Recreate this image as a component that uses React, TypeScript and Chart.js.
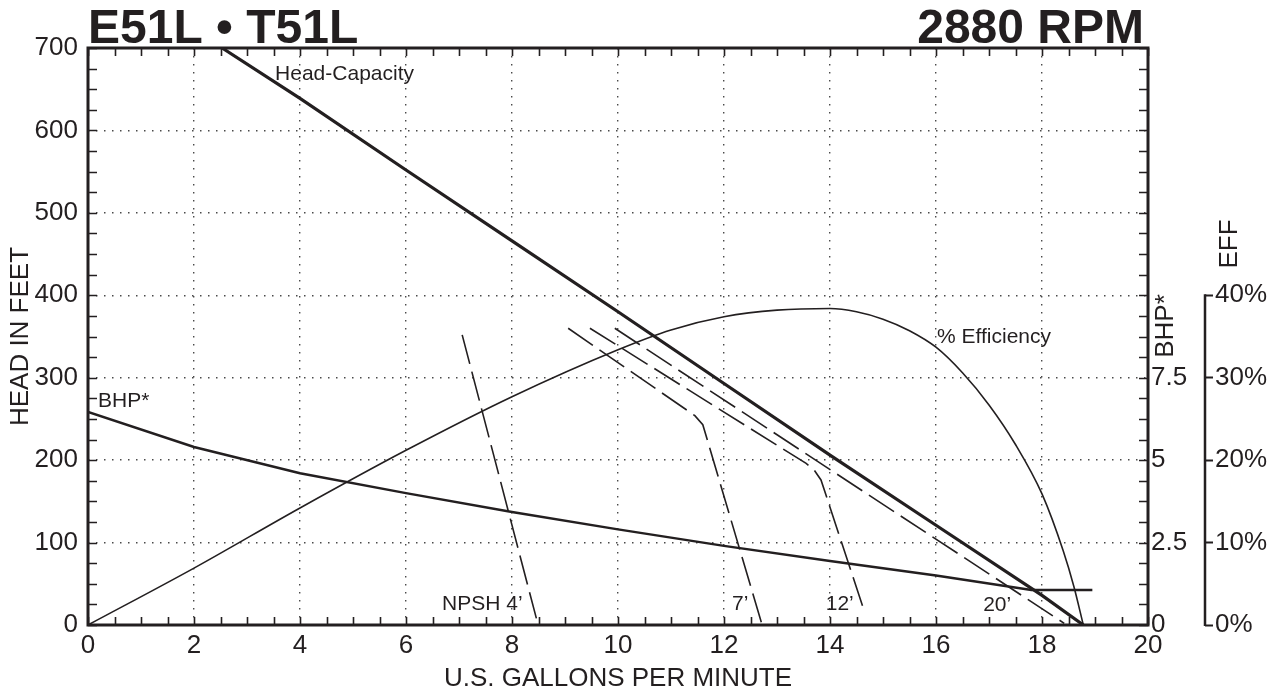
import React, { useEffect, useRef } from "react";
import { Chart, registerables } from "chart.js";

Chart.register(...registerables);

const INK = "#231f20";
const FONT = '"Liberation Sans", Arial, Helvetica, sans-serif';

const titleLeft = "E51L • T51L";
const titleRight = "2880 RPM";
const xTitle = "U.S. GALLONS PER MINUTE";
const yTitle = "HEAD IN FEET";
const bhpTitle = "BHP*";
const effTitle = "EFF";

// Head-Capacity curve (GPM, feet)
const headGpm = [2.53, 4, 6, 8, 10, 12, 14, 16, 18, 18.78];
const headFt = [700, 639, 552, 466, 380, 293, 206, 121, 36, 0];

// % Efficiency curve (GPM, %)
const effGpm = [0, 2, 4, 6, 8, 10, 11, 12, 13, 14, 14.5, 15, 15.5, 16, 16.5, 17, 17.5, 18, 18.4, 18.6, 18.78];
const effPct = [0, 6.9, 14.2, 21.2, 27.7, 33.4, 35.8, 37.4, 38.2, 38.4, 38.0, 37.1, 35.7, 33.7, 30.6, 26.7, 21.9, 15.9, 9.0, 4.7, 0];

// BHP curve (GPM, BHP)
const bhpGpm = [0, 2, 4, 6, 8, 10, 12, 14, 16, 17.8, 18.95];
const bhpVal = [6.46, 5.4, 4.6, 4.0, 3.43, 2.9, 2.4, 1.94, 1.5, 1.06, 1.06];

// NPSH curves (GPM, feet)
const npsh4Gpm = [7.06, 8.46];
const npsh4Ft = [352, 8];
const npsh7Gpm = [9.06, 11.45, 11.6, 12.71];
const npsh7Ft = [360, 254, 243, 2];
const npsh12Gpm = [9.47, 13.55, 13.7, 13.83, 14.65];
const npsh12Ft = [360, 196, 188, 176, 16];
const npsh20Gpm = [9.94, 18.42];
const npsh20Ft = [360, 2];

// Axis ticks
const bhpTickVals = [0, 2.5, 5, 7.5];
const effTickVals = [0, 10, 20, 30, 40];

// Curve labels (GPM, feet at baseline)
const labelTexts = ["Head-Capacity", "BHP*", "% Efficiency", "NPSH 4’", "7’", "12’", "20’"];
const labelGpm = [3.53, 0.19, 16.02, 6.68, 12.15, 13.92, 16.89];
const labelFt = [661, 264, 342, 18, 18, 18, 17];

const pts = (xs: number[], ys: number[]) => xs.map((x, i) => ({ x, y: ys[i] }));

const decorPlugin = {
  id: "decor",
  afterDatasetsDraw(chart: any) {
    const { ctx, chartArea, scales } = chart;
    const xs = scales.x;
    const ys = scales.y;
    const eff = scales.eff;
    ctx.save();
    ctx.strokeStyle = INK;
    ctx.fillStyle = INK;

    // inner minor ticks
    ctx.lineWidth = 1.6;
    ctx.beginPath();
    for (let v = 0; v <= 20.001; v += 0.5) {
      const px = Math.round(xs.getPixelForValue(v)) + 0.5;
      ctx.moveTo(px, chartArea.bottom);
      ctx.lineTo(px, chartArea.bottom - 8);
      ctx.moveTo(px, chartArea.top);
      ctx.lineTo(px, chartArea.top + 8);
    }
    for (let v = 0; v <= 700.001; v += 25) {
      const py = Math.round(ys.getPixelForValue(v)) + 0.5;
      ctx.moveTo(chartArea.left, py);
      ctx.lineTo(chartArea.left + 9, py);
      ctx.moveTo(chartArea.right, py);
      ctx.lineTo(chartArea.right - 9, py);
    }
    ctx.stroke();

    // plot frame
    ctx.lineWidth = 3;
    ctx.strokeRect(chartArea.left, chartArea.top, chartArea.right - chartArea.left, chartArea.bottom - chartArea.top);

    // EFF axis line (0..40%)
    ctx.lineWidth = 2.5;
    ctx.beginPath();
    ctx.moveTo(eff.left, eff.getPixelForValue(0) + 1);
    ctx.lineTo(eff.left, eff.getPixelForValue(40) - 1);
    ctx.stroke();

    // titles
    ctx.font = `bold 48px ${FONT}`;
    ctx.textBaseline = "alphabetic";
    ctx.textAlign = "left";
    ctx.fillText(titleLeft, chartArea.left, 43);
    ctx.textAlign = "right";
    ctx.fillText(titleRight, chartArea.right - 4, 43);

    // curve labels
    ctx.font = `21px ${FONT}`;
    ctx.textAlign = "left";
    labelTexts.forEach((t, i) => {
      ctx.fillText(t, xs.getPixelForValue(labelGpm[i]), ys.getPixelForValue(labelFt[i]));
    });

    // right axis titles (rotated)
    ctx.font = `26px ${FONT}`;
    ctx.textAlign = "center";
    ctx.textBaseline = "middle";
    ctx.save();
    ctx.translate(chartArea.right + 18, 326);
    ctx.rotate(-Math.PI / 2);
    ctx.fillText(bhpTitle, 0, 0);
    ctx.restore();
    ctx.save();
    ctx.translate(eff.left + 25, 244);
    ctx.rotate(-Math.PI / 2);
    ctx.fillText(effTitle, 0, 0);
    ctx.restore();

    ctx.restore();
  },
};

export default function App() {
  const ref = useRef<HTMLCanvasElement>(null);

  useEffect(() => {
    if (!ref.current) return;
    const dotted = {
      color: "#4a4a4a",
      lineWidth: 1.4,
      drawTicks: false,
    };
    const chart = new Chart(ref.current, {
      type: "line",
      data: {
        datasets: [
          {
            label: "Head-Capacity",
            data: pts(headGpm, headFt),
            yAxisID: "y",
            borderColor: INK,
            borderWidth: 3.2,
            pointRadius: 0,
            tension: 0,
          },
          {
            label: "% Efficiency",
            data: pts(effGpm, effPct),
            yAxisID: "eff",
            borderColor: INK,
            borderWidth: 1.6,
            pointRadius: 0,
            cubicInterpolationMode: "monotone",
          },
          {
            label: "BHP*",
            data: pts(bhpGpm, bhpVal),
            yAxisID: "bhp",
            borderColor: INK,
            borderWidth: 2.5,
            pointRadius: 0,
            tension: 0,
          },
          ...[
            [npsh4Gpm, npsh4Ft],
            [npsh7Gpm, npsh7Ft],
            [npsh12Gpm, npsh12Ft],
            [npsh20Gpm, npsh20Ft],
          ].map(([g, f], i) => ({
            label: "NPSH " + i,
            data: pts(g, f),
            yAxisID: "y",
            borderColor: INK,
            borderWidth: 1.6,
            borderDash: [30, 8],
            pointRadius: 0,
            tension: 0,
          })),
        ],
      },
      options: {
        animation: false,
        responsive: false,
        devicePixelRatio: 1,
        layout: { padding: { top: 48, left: 0, right: 0, bottom: 0 } },
        plugins: { legend: { display: false }, tooltip: { enabled: false }, title: { display: false } },
        scales: {
          x: {
            type: "linear",
            min: 0,
            max: 20,
            ticks: { stepSize: 2, color: INK, font: { family: FONT, size: 26 }, padding: 5, maxRotation: 0 },
            grid: dotted,
            border: { display: false, dash: [1.5, 6.5] },
            title: { display: true, text: xTitle, color: INK, font: { family: FONT, size: 26 }, padding: { top: 0, bottom: 0 } },
            afterFit: (s: any) => {
              s.height = 69;
            },
          },
          y: {
            type: "linear",
            position: "left",
            min: 0,
            max: 700,
            ticks: { stepSize: 100, color: INK, font: { family: FONT, size: 26 }, padding: 10 },
            grid: dotted,
            border: { display: false, dash: [1.5, 6.5] },
            title: { display: true, text: yTitle, color: INK, font: { family: FONT, size: 26 }, padding: { top: 5, bottom: 0 } },
            afterFit: (s: any) => {
              s.width = 88;
            },
          },
          bhp: {
            type: "linear",
            position: "right",
            weight: 0,
            min: 0,
            max: 17.5,
            afterBuildTicks: (s: any) => {
              s.ticks = bhpTickVals.map((v) => ({ value: v }));
            },
            ticks: { color: INK, font: { family: FONT, size: 26 }, padding: 3 },
            grid: { display: false, drawOnChartArea: false, drawTicks: false },
            border: { display: false },
            afterFit: (s: any) => {
              s.width = 57;
            },
          },
          eff: {
            type: "linear",
            position: "right",
            weight: 1,
            min: 0,
            max: 70,
            afterBuildTicks: (s: any) => {
              s.ticks = effTickVals.map((v) => ({ value: v }));
            },
            ticks: {
              color: INK,
              font: { family: FONT, size: 26 },
              padding: 2,
              callback: (v: any) => v + "%",
            },
            grid: { display: true, drawOnChartArea: false, drawTicks: true, tickLength: 8, tickWidth: 2, tickColor: INK },
            border: { display: false },
            afterFit: (s: any) => {
              s.width = 76;
            },
          },
        },
      },
      plugins: [decorPlugin],
    } as any);
    return () => chart.destroy();
  }, []);

  return (
    <div style={{ position: "absolute", left: 0, top: 0, width: 1281, height: 694, background: "#fff" }}>
      <canvas ref={ref} width={1281} height={694} style={{ display: "block" }} />
    </div>
  );
}
